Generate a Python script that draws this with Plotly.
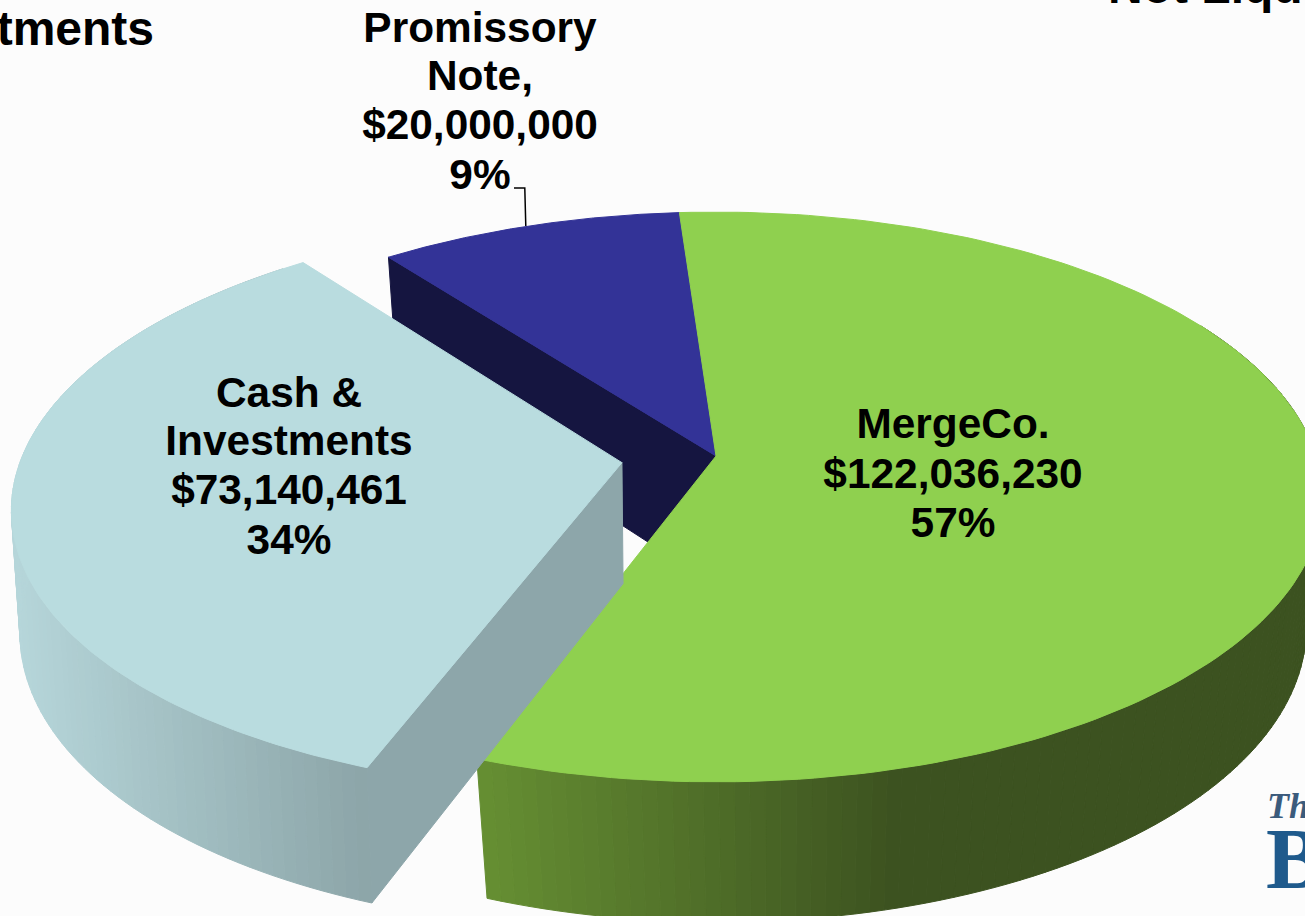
import numpy as np
import plotly.graph_objects as go

# --- data ---
categories = ["MergeCo.", "Cash &\nInvestments", "Promissory\nNote,"]
values = [122036230, 73140461, 20000000]
top_colors = ["#8FD04F", "#B9DCDF", "#333397"]
exploded = [0.0, 0.158, 0.0]
start_angle = -4.0

# --- projection of the tilted pie to page pixels ---
W, H = 1305, 916
CX, CY = 716.0, 456.0
A, B, K = 600.0, 279.0, 0.1438
DEPTH = {0: (2.0, 0.03, 134.0), 1: (0.0, 0.012, 122.0), 2: (0.0, 0.03, 134.0)}


def proj(u, v, d=None):
    u = np.asarray(u, float)
    v = np.asarray(v, float)
    p, q, r = d if d else (0.0, 0.0, 0.0)
    den = 1 - K * v + q
    return CX + (A * u + p) / den, CY + (B * v + r) / den


def hex2rgb(h):
    return np.array([int(h[i:i + 2], 16) for i in (1, 3, 5)], float)


def lerp(c0, c1, t):
    t = min(max(t, 0.0), 1.0)
    c = hex2rgb(c0) * (1 - t) + hex2rgb(c1) * t
    return "rgb(%d,%d,%d)" % tuple(c)


total = sum(values)
sweeps = [v / total * 360 for v in values]
bounds = np.concatenate([[start_angle], start_angle + np.cumsum(sweeps)])


def rim(i, a):
    a = np.radians(a)
    mid = np.radians((bounds[i] + bounds[i + 1]) / 2)
    du, dv = exploded[i] * np.sin(mid), -exploded[i] * np.cos(mid)
    return du + np.sin(a), dv - np.cos(a)


def apex(i):
    mid = np.radians((bounds[i] + bounds[i + 1]) / 2)
    return exploded[i] * np.sin(mid), -exploded[i] * np.cos(mid)


fig = go.Figure()


def poly(xs, ys, color):
    fig.add_trace(go.Scatter(x=list(xs), y=list(ys), mode="lines", fill="toself",
                             fillcolor=color, line=dict(color=color, width=1),
                             hoverinfo="skip", showlegend=False))


def top_face(i):
    a = np.linspace(bounds[i], bounds[i + 1], 160)
    u, v = rim(i, a)
    au, av = apex(i)
    x, y = proj(np.r_[au, u, au], np.r_[av, v, av])
    poly(x, y, top_colors[i])


def cut_face(i, a, color):
    u, v = rim(i, a)
    au, av = apex(i)
    d = DEPTH[i]
    x1, y1 = proj(au, av)
    x2, y2 = proj(u, v)
    x3, y3 = proj(u, v, d)
    x4, y4 = proj(au, av, d)
    poly([x1, x2, x3, x4, x1], [y1, y2, y3, y4, y1], color)


def side_band(i, a0, a1, c0, c1, x0, x1, n):
    a = np.linspace(a0, a1, n + 1)
    d = DEPTH[i]
    for k in range(n):
        u, v = rim(i, np.linspace(a[k], a[k + 1], 4))
        xt, yt = proj(u, v)
        xb, yb = proj(u, v, d)
        col = lerp(c0, c1, (xt.mean() - x0) / (x1 - x0))
        poly(np.r_[xt, xb[::-1], xt[0]], np.r_[yt, yb[::-1], yt[0]], col)


# promissory note: dark cut face, then top
cut_face(2, bounds[2], "#151540")
top_face(2)

# merge co: shaded rim, then top
side_band(0, 60, bounds[1], "#668F33", "#3C5220", 480, 900, 110)
top_face(0)

# cash & investments: shaded rim, cut face, top
side_band(1, bounds[1], 320, "#8CA5A8", "#B6D6DA", 369, 15, 100)
cut_face(1, bounds[1], "#8DA6AA")
top_face(1)

# leader line from the promissory slice to its label
lu, lv = rim(2, (bounds[2] + bounds[3]) / 2)
lx, ly = proj(lu, lv)
fig.add_trace(go.Scatter(x=[514, lx - 4, lx - 3], y=[188, 188, ly], mode="lines",
                         line=dict(color="#000000", width=1.5),
                         hoverinfo="skip", showlegend=False))


def pct(v):
    return f"{round(v / total * 100)}%"


merge_lines = ["MergeCo.", f"${values[0]:,}", pct(values[0])]
cash_lines = ["Cash &", "Investments", f"${values[1]:,}", pct(values[1])]
note_lines = ["Promissory", "Note,", f"${values[2]:,}", pct(values[2])]


def label(lines, x, ys, pos="middle center", size=42.4, family="Liberation Sans",
          color="#000000", weight=700, style="normal"):
    fig.add_trace(go.Scatter(x=[x] * len(lines), y=ys, text=lines, mode="text",
                             textposition=pos,
                             textfont=dict(family=family, size=size, color=color,
                                           weight=weight, style=style),
                             hoverinfo="skip", showlegend=False))


label(merge_lines, 953, [427, 477, 526])
label(cash_lines, 289, [396, 444, 493, 543])
label(note_lines, 480, [31, 79, 128, 178])
label(["tments"], 154, [33], pos="middle left", size=48)
label(["Not Liqu"], 1108, [-9], pos="middle right", size=48)
label(["Th"], 1267, [809], pos="middle right", size=36, family="Liberation Serif",
      color="#3B5B7C", style="italic")
label(["B"], 1266, [866], pos="middle right", size=86, family="Liberation Serif",
      color="#1F5A8C", weight=700)

fig.update_layout(
    width=W, height=H, margin=dict(l=0, r=0, t=0, b=0),
    paper_bgcolor="#FCFCFC", plot_bgcolor="#FCFCFC", showlegend=False,
    xaxis=dict(range=[0, W], visible=False, fixedrange=True),
    yaxis=dict(range=[H, 0], visible=False, fixedrange=True),
)
fig.write_html("out.html", config={"displayModeBar": False},
               post_script="document.body.style.margin='0';document.body.style.overflow='hidden';")
